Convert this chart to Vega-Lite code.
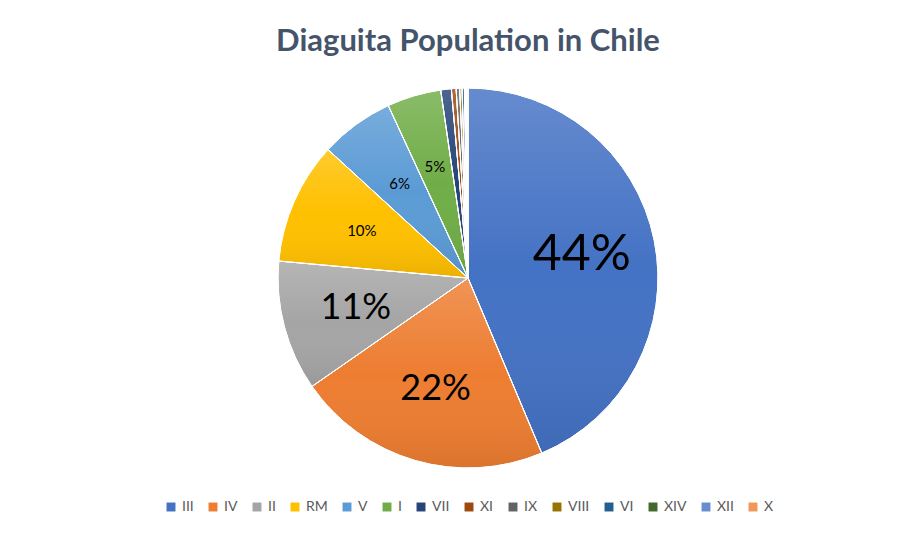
{
  "$schema": "https://vega.github.io/schema/vega-lite/v6.json",
  "autosize": "none",
  "padding": {"left": 20, "top": 70, "right": 0, "bottom": 52},
  "width": 896,
  "height": 416,
  "background": "white",
  "title": {
    "text": "Diaguita Population in Chile",
    "font": "Lato",
    "fontSize": 31,
    "fontWeight": "bold",
    "color": "#44546A",
    "anchor": "middle",
    "offset": 12
  },
  "data": {
    "values": [
      {"region": "III", "share": 0.437},
      {"region": "IV", "share": 0.217},
      {"region": "II", "share": 0.111},
      {"region": "RM", "share": 0.104},
      {"region": "V", "share": 0.063},
      {"region": "I", "share": 0.046},
      {"region": "VII", "share": 0.009},
      {"region": "XI", "share": 0.004},
      {"region": "IX", "share": 0.003},
      {"region": "VIII", "share": 0.002},
      {"region": "VI", "share": 0.002},
      {"region": "XIV", "share": 0.001},
      {"region": "XII", "share": 0.001},
      {"region": "X", "share": 0.001}
    ]
  },
  "transform": [{"window": [{"op": "row_number", "as": "idx"}]}],
  "encoding": {
    "theta": {"field": "share", "type": "quantitative", "stack": true},
    "order": {"field": "idx", "type": "quantitative"}
  },
  "layer": [
    {
      "mark": {"type": "arc", "outerRadius": 190, "stroke": "white", "strokeWidth": 1},
      "encoding": {
        "color": {
          "field": "region",
          "type": "nominal",
          "sort": null,
          "scale": {
            "domain": ["III", "IV", "II", "RM", "V", "I", "VII", "XI", "IX", "VIII", "VI", "XIV", "XII", "X"],
            "range": ["#4472C4", "#ED7D31", "#A5A5A5", "#FFC000", "#5B9BD5", "#70AD47", "#264478", "#9E480E", "#636363", "#997300", "#255E91", "#43682B", "#698ED0", "#F1975A"]
          },
          "legend": {
            "title": null,
            "orient": "none",
            "legendX": 144,
            "legendY": 430,
            "direction": "horizontal",
            "columns": 14,
            "symbolType": "square",
            "symbolSize": 80,
            "symbolStrokeWidth": 0,
            "labelFont": "Lato",
            "labelFontSize": 14,
            "labelColor": "#595959",
            "columnPadding": 12
          }
        }
      }
    },
    {
      "mark": {
        "type": "arc",
        "outerRadius": 190,
        "stroke": "white",
        "strokeWidth": 1,
        "fill": {
          "gradient": "linear",
          "x1": 0, "y1": 0, "x2": 0, "y2": 1,
          "stops": [
            {"offset": 0, "color": "rgba(255,255,255,0.18)"},
            {"offset": 0.5, "color": "rgba(255,255,255,0)"},
            {"offset": 1, "color": "rgba(0,0,0,0.08)"}
          ]
        }
      },
      "encoding": {}
    },
    {
      "mark": {"type": "text", "radius": 116, "font": "Lato", "color": "black"},
      "encoding": {
        "text": {
          "condition": {"test": "datum.share >= 0.04", "field": "share", "type": "quantitative", "format": ".0%"},
          "value": ""
        },
        "size": {
          "field": "share",
          "type": "quantitative",
          "scale": {"type": "threshold", "domain": [0.11, 0.3], "range": [15, 36, 50]},
          "legend": null
        }
      }
    }
  ],
  "config": {"view": {"stroke": null}}
}
